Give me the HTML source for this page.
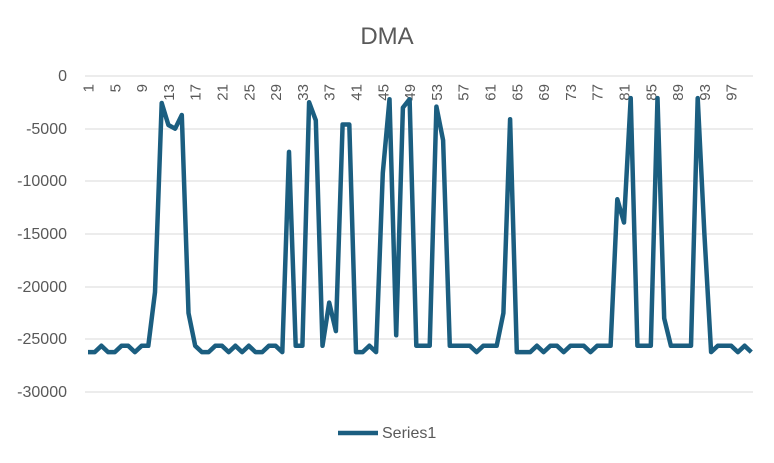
<!DOCTYPE html>
<html><head><style>body{margin:0;background:#fff}svg{display:block;font-family:"Liberation Sans",sans-serif}</style></head><body>
<svg width="774" height="463" xmlns="http://www.w3.org/2000/svg" id="s">
<rect width="774" height="463" fill="#fff"/>
<text x="387" y="44" text-anchor="middle" font-size="24" fill="#595959">DMA</text>
<g stroke="#d9d9d9" stroke-width="1">
<line x1="85" x2="753" y1="76" y2="76"/><line x1="85" x2="753" y1="129" y2="129"/><line x1="85" x2="753" y1="181" y2="181"/><line x1="85" x2="753" y1="234" y2="234"/><line x1="85" x2="753" y1="287" y2="287"/><line x1="85" x2="753" y1="339" y2="339"/><line x1="85" x2="753" y1="392" y2="392"/>
</g>
<g font-size="16" fill="#595959" text-anchor="end">
<text x="67" y="81">0</text><text x="67" y="134">-5000</text><text x="67" y="186">-10000</text><text x="67" y="239">-15000</text><text x="67" y="292">-20000</text><text x="67" y="344">-25000</text><text x="67" y="397">-30000</text>
</g>
<g id="xl" font-size="15" fill="#595959"></g>
<polyline id="pl" fill="none" stroke="#1b5e80" stroke-width="4.5" stroke-linejoin="round"/>
<line x1="338" x2="378" y1="433" y2="433" stroke="#1b5e80" stroke-width="4.5"/>
<text x="382" y="438" font-size="16" fill="#595959">Series1</text>
</svg>
<script>
var d=[-26200,-26200,-25600,-26200,-26200,-25600,-25600,-26200,-25600,-25600,-20500,-2560,-4650,-5000,-3700,-22500,-25600,-26200,-26200,-25600,-25600,-26200,-25600,-26200,-25600,-26200,-26200,-25600,-25600,-26200,-7200,-25600,-25600,-2500,-4200,-25600,-21500,-24200,-4600,-4600,-26200,-26200,-25600,-26200,-9200,-2200,-24600,-3000,-2200,-25600,-25600,-25600,-2900,-6100,-25600,-25600,-25600,-25600,-26200,-25600,-25600,-25600,-22500,-4100,-26200,-26200,-26200,-25600,-26200,-25600,-25600,-26200,-25600,-25600,-25600,-26200,-25600,-25600,-25600,-11700,-13900,-2100,-25600,-25600,-25600,-2100,-23000,-25600,-25600,-25600,-25600,-2100,-15000,-26200,-25600,-25600,-25600,-26200,-25600,-26200];
var p=[],g=document.getElementById('xl'),h='';
for(var i=0;i<d.length;i++){var x=88+i*6.7,y=76-d[i]/5000*52.7;p.push(x.toFixed(1)+','+y.toFixed(1));
if(i%4==0){h+='<text transform="translate('+(x+5.5).toFixed(1)+',84) rotate(-90)" text-anchor="end">'+(i+1)+'</text>';}}
document.getElementById('pl').setAttribute('points',p.join(' '));
g.innerHTML=h;
</script>
</body></html>
